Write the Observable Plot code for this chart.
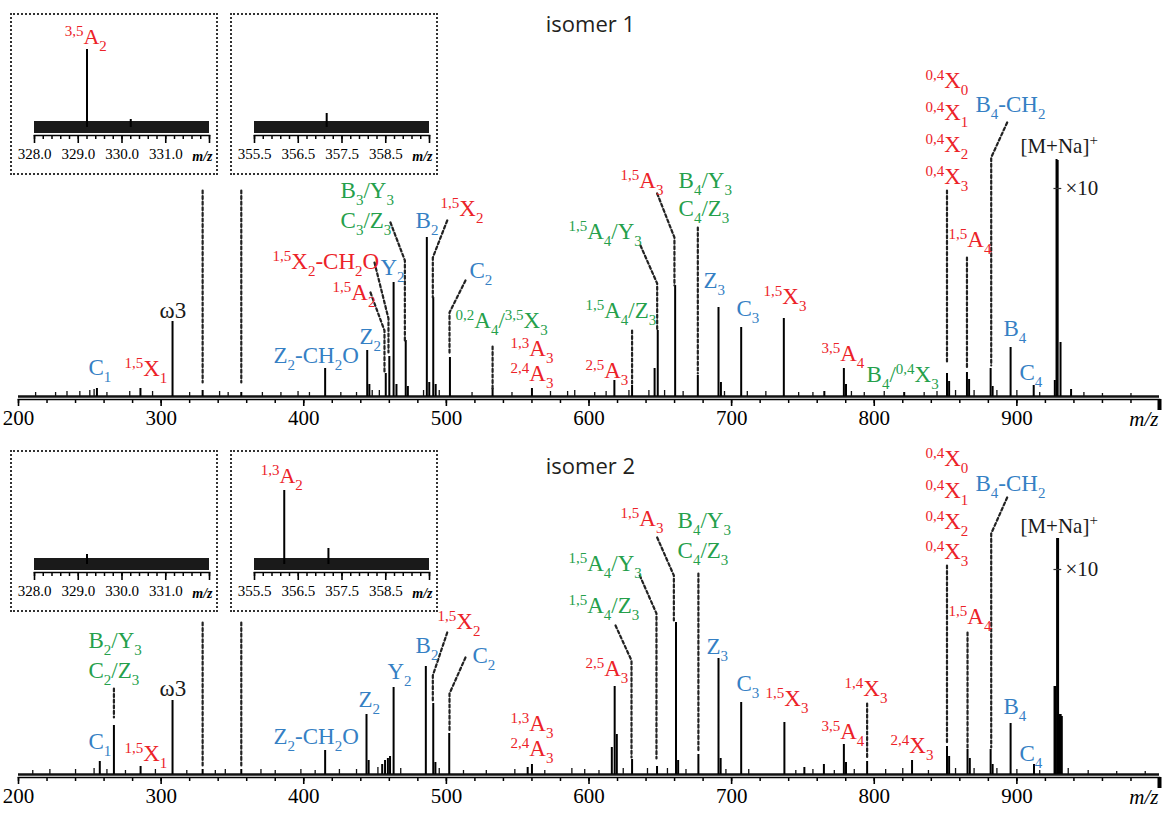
<!DOCTYPE html>
<html><head><meta charset="utf-8">
<script src="https://cdn.jsdelivr.net/npm/d3@7"></script>
<script src="https://cdn.jsdelivr.net/npm/@observablehq/plot@0.6"></script>
<style>
body{margin:0;background:#fff;}
#chart{position:relative;width:1163px;height:816px;overflow:hidden;background:#fff;}
.panel{position:absolute;left:0;}
.inset{position:absolute;box-sizing:border-box;width:208px;height:162px;border:2px dotted #333;background:#fff;}
.inset svg,.panel svg{display:block;}
#chart svg text{font-family:"Liberation Serif","Times New Roman",serif;}
#chart svg text.title{font-family:"Open Sans","Noto Sans",sans-serif;}
</style></head><body><div id="chart"></div>
<script>
// ---------- data ----------
const majorTicks = [200, 300, 400, 500, 600, 700, 800, 900, 1000];
const minorTicks = d3.range(200, 1001, 20);
const titles = ["isomer 1", "isomer 2"];

// [m/z, relative intensity]
const peaks1 = [[255,8],[285.5,8],[308,75],[329.1,6],[356.2,4],[415,28],[444.5,46],[446,12],[457.5,23],[460,40],[463,114],[465,12],[471.5,56],[473,10],[486.3,159],[488,14],[490.8,99],[492.5,12],[502.5,39],[532.4,8],[560,8],[617.8,16],[630.2,11],[646,28],[648.2,66],[660.4,111],[676.3,21],[690.8,89],[692.5,14],[706.7,69],[736.6,78],[765,5],[778.7,28],[780.2,12],[821,4],[851,23],[852.5,15],[865,24],[866.5,17],[881.6,28],[883,10],[895.6,49],[911.8,11],[926.6,16],[927.8,237],[928.6,236],[930.6,54],[938,7]];
const peaks2 = [[257,13],[266.9,49],[285.6,8],[308,74],[329.1,5],[356.2,5],[415,24],[444,60],[445.5,14],[455,10],[457,14],[459,16],[460.5,18],[463,87],[485.6,108],[490.8,71],[492.3,12],[502,41],[557,7],[560,10],[616,27],[618,88],[619.5,40],[630.2,15],[647.7,8],[661,152],[662.5,14],[676.7,20],[690.8,116],[692.3,16],[706.7,72],[737,52],[751,7],[764.7,10],[778.7,30],[780.2,12],[795,13],[826.5,14],[851,28],[852.5,18],[865.4,25],[867,16],[881.6,25],[883,10],[895.6,51],[912,10],[926.4,88],[927.2,88],[928.2,236],[928.9,236],[929.9,60],[930.7,60],[931.5,58]];
const minor1 = [[212,4],[226,4],[234,5],[243,5],[250,6],[253,7],[262,4],[278,5],[294,5],[320,4],[341,5],[347,4],[371,4],[384,4],[396,5],[404,4],[426,4],[437,4],[448,6],[453,6],[484,6],[495,6],[518,4],[546,4],[573,5],[585,5],[590,6],[604,4],[612,5],[628,6],[642,6],[653,6],[666,5],[695,5],[711,5],[724,5],[747,4],[757,4],[784,5],[793,4],[807,5],[835,4],[844,5],[857,6],[870,6],[886,6],[900,6],[916,4],[947,4],[960,3],[980,3]];
const minor2 = [[210,4],[222,5],[240,5],[253,6],[262,5],[275,4],[296,5],[318,4],[338,4],[345,5],[370,5],[380,4],[398,5],[408,4],[425,5],[437,5],[452,7],[468,6],[495,6],[512,4],[528,4],[548,5],[569,4],[588,6],[597,5],[607,4],[624,6],[641,6],[655,6],[668,5],[696,5],[712,5],[745,4],[757,5],[772,4],[786,5],[808,5],[820,6],[838,4],[857,6],[870,6],[886,6],[900,5],[916,4],[936,6],[950,4],[970,3],[990,3]];

// labels: [text, colour class, m/z, intensity]  (^{..} superscript, _{..} subscript)
const labels1 = [
["C_{1}","blue",249.1,22],["^{1,5}X_{1}","red",274.3,21],["ω3","black",298.9,79],
["Z_{2}-CH_{2}O","blue",378.8,34],["Z_{2}","blue",439.1,53],["^{1,5}A_{2}","red",420.2,97],
["^{1,5}X_{2}-CH_{2}O","red",378.1,128],["Y_{2}","blue",453.8,122],
["B_{3}/Y_{3}","green",425.8,199],["C_{3}/Z_{3}","green",425.8,169],
["B_{2}","blue",478.4,169],["^{1,5}X_{2}","red",495.9,181],["C_{2}","blue",516.2,119],
["^{0,2}A_{4}/^{3,5}X_{3}","green",506.4,69],["^{1,3}A_{3}","red",545,41],["^{2,4}A_{3}","red",545,16],
["^{2,5}A_{3}","red",597.5,19],["^{1,5}A_{4}/Z_{3}","green",597.5,79],["^{1,5}A_{4}/Y_{3}","green",585.6,158],
["^{1,5}A_{3}","red",622.1,209],["B_{4}/Y_{3}","green",662.8,209],["C_{4}/Z_{3}","green",662.8,181],
["Z_{3}","blue",680.3,109],["C_{3}","blue",703.4,81],["^{1,5}X_{3}","red",722.4,93],
["^{3,5}A_{4}","red",763,36],["B_{4}/^{0,4}X_{3}","green",794.6,15],
["^{0,4}X_{0}","red",835.9,309],["^{0,4}X_{1}","red",835.9,277],["^{0,4}X_{2}","red",835.9,245],["^{0,4}X_{3}","red",835.9,213],
["B_{4}-CH_{2}","blue",871,285],["[M+Na]^{+}","black",902.5,244],["×10","black",934.1,202],
["^{1,5}A_{4}","red",852.1,150],["B_{4}","blue",890.6,61],["C_{4}","blue",901.8,17]
];
const labels2 = [
["B_{2}/Y_{3}","green",249.1,127],["C_{2}/Z_{3}","green",249.1,97],["C_{1}","blue",249.1,26],
["^{1,5}X_{1}","red",274.3,14],["ω3","black",298.9,79],["Z_{2}-CH_{2}O","blue",378.8,31],
["Z_{2}","blue",438.4,68],["Y_{2}","blue",458.7,96],["B_{2}","blue",478.4,122],
["^{1,5}X_{2}","red",493.8,146],["C_{2}","blue",518.3,112],
["^{1,3}A_{3}","red",545,44],["^{2,4}A_{3}","red",545,19],["^{2,5}A_{3}","red",597.5,99],
["^{1,5}A_{4}/Z_{3}","green",585.6,162],["^{1,5}A_{4}/Y_{3}","green",585.6,204],
["^{1,5}A_{3}","red",622.1,249],["B_{4}/Y_{3}","green",662.1,247],["C_{4}/Z_{3}","green",662.1,217],
["Z_{3}","blue",682.4,121],["C_{3}","blue",703.4,84],["^{1,5}X_{3}","red",723.8,69],
["^{3,5}A_{4}","red",763,36],["^{1,4}X_{3}","red",779.2,79],["^{2,4}X_{3}","red",811.4,22],
["^{0,4}X_{0}","red",835.9,309],["^{0,4}X_{1}","red",835.9,277],["^{0,4}X_{2}","red",835.9,246],["^{0,4}X_{3}","red",835.9,216],
["B_{4}-CH_{2}","blue",871,284],["[M+Na]^{+}","black",902.5,242],["×10","black",934.1,199],
["^{1,5}A_{4}","red",852.1,151],["B_{4}","blue",890.6,61],["C_{4}","blue",901.8,14]
];
// "×10" break marks across the [M+Na]+ peak: [m/z from, m/z to, intensity]
const breakMark1 = [[926, 931.5, 208]];
const breakMark2 = [[926, 931.5, 205]];

// dotted leader lines: lists of [m/z, intensity] points
const leaders1 = [
[[329.1,206],[329.1,14]],[[356.2,206],[356.2,14]],
[[446.8,104],[456.6,66],[456.6,24]],
[[449.6,134],[459.4,78],[459.4,44]],
[[460.8,174],[470.9,136],[470.9,56]],
[[500.6,176],[490.5,139],[490.5,99]],
[[513.4,116],[502.2,84],[502.2,43]],
[[532.4,50],[532.4,8]],
[[630.2,66],[630.2,13]],
[[636.1,151],[647.8,113],[647.8,66]],
[[647.8,203],[659.9,159],[659.9,111]],
[[676.3,169],[676.3,23]],
[[851,206],[851,33]],
[[865,139],[865,29]],
[[893.2,274],[882,239],[882,31]]
];
const leaders2 = [
[[329.1,152],[329.1,9]],[[356.2,152],[356.2,9]],
[[266.9,86],[266.9,57]],
[[500.6,142],[490.5,99],[490.5,72]],
[[513.4,117],[502.2,81],[502.2,42]],
[[618.6,149],[629.8,114],[629.8,17]],
[[635.6,199],[647.3,161],[647.3,16]],
[[647.8,237],[659.5,199],[659.5,154]],
[[676.7,201],[676.7,22]],
[[795,71],[795,16]],
[[851,209],[851,32]],
[[865.4,142],[865.4,27]],
[[893.2,277],[882,241],[882,27]]
];

// insets (zoomed m/z windows)
const insetDomains = [[328, 332], [355.5, 359.5]];
const insetPeaks1 = [[[329.2,78],[330.2,8]], [[357.15,14]]];
const insetPeaks2 = [[[329.2,10]], [[356.18,74],[357.19,16]]];
const insetLabels1 = [[["^{3,5}A_{2}","red",328.69,84]], []];
const insetLabels2 = [[], [["^{1,3}A_{2}","red",355.64,82]]];
const insetNoise = [[-6, 6]];

// ---------- styling ----------
const SERIF = "Liberation Serif";
const COLORS = {red:"#ec2228", blue:"#3580c4", green:"#25a04b", black:"#1a1a1a"};

function richify(svg) {
  svg.querySelectorAll('g[aria-label="text"] text').forEach(t => {
    const s = t.textContent;
    if (!/[\^_]\{/.test(s)) return;
    t.textContent = "";
    let shift = 0;
    const re = /\^\{([^}]*)\}|_\{([^}]*)\}|([^\^_]+)/g;
    let m;
    while ((m = re.exec(s))) {
      const ts = document.createElementNS("http://www.w3.org/2000/svg", "tspan");
      let target = 0, small = false;
      if (m[1] !== undefined) { ts.textContent = m[1]; target = -8; small = true; }
      else if (m[2] !== undefined) { ts.textContent = m[2]; target = 7; small = true; }
      else { ts.textContent = m[3]; }
      if (target !== shift) ts.setAttribute("dy", target - shift);
      shift = target;
      if (small) ts.setAttribute("font-size", 15);
      t.appendChild(ts);
    }
  });
  return svg;
}

function labelMark(labels, size) {
  return Plot.text(labels, {
    x: d => d[2], y: d => d[3], text: d => d[0], fill: d => COLORS[d[1]],
    textAnchor: "start", lineAnchor: "bottom", fontFamily: SERIF,
    fontSize: d => d[1] === "black" && d[0] !== "ω3" ? 21 : size
  });
}

function panel(peaks, minor, labels, leaders, breakMark, title, titleY, marginTop, marginBottom, height) {
  const pts = leaders.flatMap((p, i) => p.map(([x, y]) => ({id: i, x, y})));
  const svg = Plot.plot({
    width: 1163, height, marginLeft: 18, marginRight: 4, marginTop, marginBottom,
    x: {domain: [200, 1000], axis: null},
    y: {domain: [-3, 240], axis: null},
    color: {type: "identity"},
    style: {fontFamily: SERIF, background: "transparent", color: "#000"},
    marks: [
      Plot.ruleY([0], {stroke: "#111", strokeWidth: 2.6}),
      Plot.ruleX(minor, {x: d => d[0], y1: 0, y2: d => d[1], stroke: "#111", strokeWidth: 1.3}),
      Plot.ruleX(peaks, {x: d => d[0], y1: 0, y2: d => d[1], stroke: "#000", strokeWidth: 2}),
      Plot.ruleY(breakMark, {x1: d => d[0], x2: d => d[1], y: d => d[2], stroke: "#333", strokeWidth: 1.2}),
      Plot.frame({anchor: "bottom", stroke: "#000", strokeWidth: 1.6}),
      Plot.axisX({ticks: minorTicks, tickSize: 4, tickFormat: () => "", label: null, strokeWidth: 1.5}),
      Plot.axisX({ticks: majorTicks, tickSize: 7, tickPadding: 4, fontSize: 21, fontFamily: SERIF, label: null,
                  strokeWidth: 1.6, fill: "#000", tickFormat: d => d === 1000 ? "" : String(d)}),
      Plot.ruleX([1000], {y1: -3, y2: -14, stroke: "#000", strokeWidth: 4}),
      Plot.text(["m/z"], {x: () => 1000, y: () => -29, text: d => d, textAnchor: "end", lineAnchor: "bottom",
                          fontFamily: SERIF, fontSize: 21, fontStyle: "italic", fill: "#000", dx: -1}),
      Plot.line(pts, {x: "x", y: "y", z: "id", stroke: "#222", strokeWidth: 2.2, strokeDasharray: "3,2.6"}),
      labelMark(labels, 23),
      Plot.text([title], {x: () => 601, y: () => titleY, text: d => d, textAnchor: "middle", lineAnchor: "bottom",
                          fontFamily: "Open Sans", fontSize: 22, fill: "#231f20"})
    ]
  });
  return richify(svg);
}

function inset(peaks, domain, labels) {
  const major = d3.range(5).map(i => domain[0] + i);
  const minorT = d3.range(21).map(i => +(domain[0] + i * 0.2).toFixed(2));
  const svg = Plot.plot({
    width: 204, height: 158, marginLeft: 22, marginRight: 7, marginTop: 32, marginBottom: 38,
    x: {domain, axis: null},
    y: {domain: [-8, 80], axis: null},
    color: {type: "identity"},
    style: {fontFamily: SERIF, background: "transparent", color: "#000"},
    marks: [
      Plot.rect(insetNoise, {x1: () => domain[0], x2: () => domain[1], y1: d => d[0], y2: d => d[1], fill: "#1a1a1a"}),
      Plot.ruleX(peaks, {x: d => d[0], y1: 0, y2: d => d[1], stroke: "#000", strokeWidth: 2}),
      Plot.frame({anchor: "bottom", stroke: "#000", strokeWidth: 1.6}),
      Plot.axisX({ticks: minorT, tickSize: 4, tickFormat: () => "", label: null, strokeWidth: 1.5}),
      Plot.axisX({ticks: major, tickSize: 8, tickPadding: 5, fontSize: 15, fontFamily: SERIF, label: null,
                  strokeWidth: 1.6, fill: "#000", tickFormat: (d, i) => i === 4 ? "" : d.toFixed(1)}),
      Plot.text(["m/z"], {x: () => domain[1], y: () => -33, text: d => d, textAnchor: "end", lineAnchor: "bottom",
                          dx: 3, fontFamily: SERIF, fontSize: 14, fontStyle: "italic", fontWeight: "bold", fill: "#000"}),
      labelMark(labels, 22)
    ]
  });
  return richify(svg);
}

// ---------- layout ----------
const chart = document.getElementById("chart");
function place(el, cls, left, top) {
  const d = document.createElement("div");
  d.className = cls; d.style.left = left + "px"; d.style.top = top + "px";
  d.appendChild(el); chart.appendChild(d);
}
place(panel(peaks1, minor1, labels1, leaders1, breakMark1, titles[0], 365, 156, 33, 432), "panel", 0, 0);
place(panel(peaks2, minor2, labels2, leaders2, breakMark2, titles[1], 301, 102, 39, 384), "panel", 0, 432);
place(inset(insetPeaks1[0], insetDomains[0], insetLabels1[0]), "inset", 10, 13);
place(inset(insetPeaks1[1], insetDomains[1], insetLabels1[1]), "inset", 230, 13);
place(inset(insetPeaks2[0], insetDomains[0], insetLabels2[0]), "inset", 10, 450);
place(inset(insetPeaks2[1], insetDomains[1], insetLabels2[1]), "inset", 230, 450);
document.querySelectorAll("#chart g[aria-label=text] text").forEach(t => {
  if (titles.includes(t.textContent)) t.setAttribute("class", "title");
});
</script></body></html>
